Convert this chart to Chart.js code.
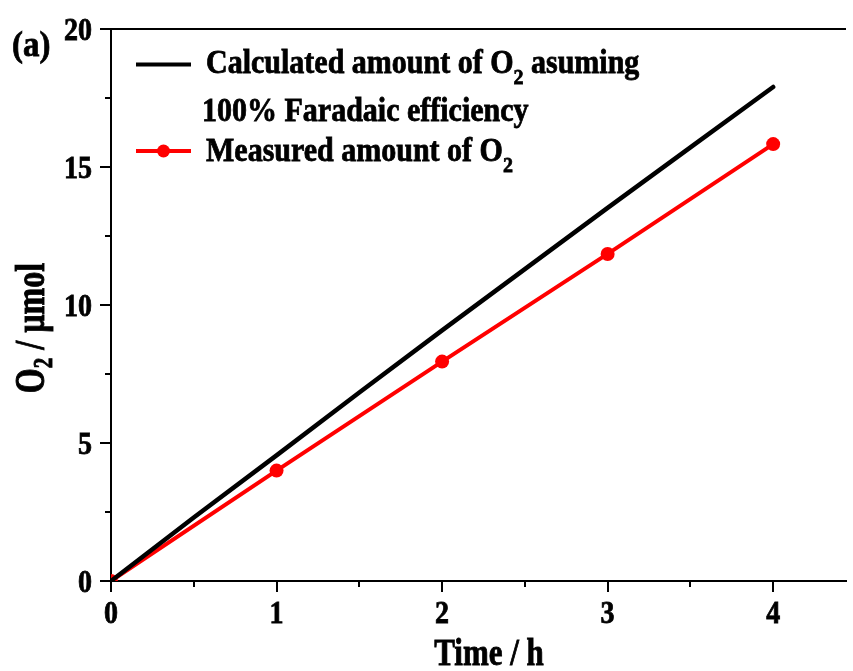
<!DOCTYPE html>
<html>
<head>
<meta charset="utf-8">
<script src="https://cdn.jsdelivr.net/npm/chart.js@4"></script>
<style>
  html, body { margin: 0; padding: 0; background: #fff; }
  canvas { display: block; }
</style>
</head>
<body>
<canvas id="o2Chart" width="853" height="671"></canvas>
<script>
// data
const calcTime = [0, 0.5, 1, 1.5, 2, 2.5, 3, 3.5, 4];
const calcO2 = [0, 2.3, 4.55, 6.83, 9.08, 11.3, 13.52, 15.71, 17.9];
const measTime = [0, 1, 2, 3, 4];
const measO2 = [0, 4.0, 7.95, 11.85, 15.83];
const xMinorTicks = [0.5, 1.5, 2.5, 3.5];
const yMinorTicks = [2.5, 7.5, 12.5, 17.5];

const serif = '"Liberation Serif", "Times New Roman", serif';
const font = (size) => 'bold ' + size + 'px ' + serif;

// text in the original figure is a bit taller and heavier, so stretch it vertically and add a thin outline
function drawRich(ctx, parts, x, y, sy) {
  ctx.save();
  ctx.translate(x, y);
  ctx.scale(1, sy || 1);
  ctx.lineWidth = 0.7;
  ctx.strokeStyle = ctx.fillStyle;
  let cx = 0;
  parts.forEach(p => {
    ctx.font = font(p.size);
    ctx.fillText(p.t, cx, p.dy || 0);
    ctx.strokeText(p.t, cx, p.dy || 0);
    cx += ctx.measureText(p.t).width;
  });
  ctx.restore();
}
function richWidth(ctx, parts) {
  let w = 0;
  parts.forEach(p => { ctx.font = font(p.size); w += ctx.measureText(p.t).width; });
  return w;
}

const decorations = {
  id: 'decorations',
  afterDraw(chart) {
    const ctx = chart.ctx;
    const area = chart.chartArea;
    const xs = chart.scales.x, ys = chart.scales.y;
    ctx.save();
    ctx.strokeStyle = '#000';
    ctx.fillStyle = '#000';

    // top frame line
    ctx.lineWidth = 2;
    ctx.beginPath();
    ctx.moveTo(area.left, area.top);
    ctx.lineTo(area.right, area.top);
    ctx.stroke();

    // minor ticks
    xMinorTicks.forEach(v => {
      const px = Math.round(xs.getPixelForValue(v));
      ctx.beginPath();
      ctx.moveTo(px, area.bottom);
      ctx.lineTo(px, area.bottom + 6);
      ctx.stroke();
    });
    yMinorTicks.forEach(v => {
      const py = Math.round(ys.getPixelForValue(v));
      ctx.beginPath();
      ctx.moveTo(area.left, py);
      ctx.lineTo(area.left - 6, py);
      ctx.stroke();
    });

    ctx.textBaseline = 'alphabetic';

    // tick labels
    ctx.textAlign = 'center';
    xs.ticks.forEach(t => {
      drawRich(ctx, [{t: String(t.value), size: 28}], xs.getPixelForValue(t.value), 623, 1.15);
    });
    ctx.textAlign = 'right';
    ys.ticks.forEach(t => {
      drawRich(ctx, [{t: String(t.value), size: 28}], area.left - 19, ys.getPixelForValue(t.value) + 11, 1.15);
    });

    // panel label
    ctx.textAlign = 'left';
    drawRich(ctx, [{t: '(a)', size: 33}], 12, 56, 1.1);

    // x title
    ctx.textAlign = 'center';
    drawRich(ctx, [{t: 'Time / h', size: 31}], 489, 665, 1.2);

    // y title (rotated, with subscript)
    ctx.textAlign = 'left';
    const yParts = [{t: 'O', size: 32}, {t: '2', size: 21, dy: 6}, {t: ' / \u00b5mol', size: 32}];
    ctx.save();
    ctx.translate(44, 328);
    ctx.rotate(-Math.PI / 2);
    drawRich(ctx, yParts, -richWidth(ctx, yParts) / 2, 0, 1.3);
    ctx.restore();

    // legend
    ctx.lineCap = 'butt';
    ctx.lineWidth = 4;
    ctx.strokeStyle = '#000';
    ctx.beginPath();
    ctx.moveTo(136, 64.5);
    ctx.lineTo(191, 64.5);
    ctx.stroke();
    drawRich(ctx, [{t: 'Calculated amount of O', size: 30}, {t: '2', size: 20, dy: 10}, {t: ' asuming', size: 30}], 206, 73, 1.1);
    drawRich(ctx, [{t: '100% Faradaic efficiency', size: 30}], 202, 121, 1.1);

    ctx.lineWidth = 4;
    ctx.strokeStyle = '#ff0000';
    ctx.beginPath();
    ctx.moveTo(136, 151);
    ctx.lineTo(191, 151);
    ctx.stroke();
    ctx.fillStyle = '#ff0000';
    ctx.beginPath();
    ctx.arc(163.5, 151, 6.5, 0, Math.PI * 2);
    ctx.fill();
    ctx.fillStyle = '#000';
    drawRich(ctx, [{t: 'Measured amount of O', size: 30}, {t: '2', size: 20, dy: 10}], 206, 161, 1.1);

    ctx.restore();
  }
};

const ctx = document.getElementById('o2Chart').getContext('2d');
const chart = new Chart(ctx, {
  type: 'scatter',
  data: {
    datasets: [{
      label: 'Calculated amount of O2 asuming 100% Faradaic efficiency',
      data: calcTime.map((t, i) => ({x: t, y: calcO2[i]})),
      showLine: true,
      borderColor: '#000',
      borderWidth: 4.5,
      pointRadius: 0,
      borderCapStyle: 'round',
      tension: 0
    }, {
      label: 'Measured amount of O2',
      data: measTime.map((t, i) => ({x: t, y: measO2[i]})),
      showLine: true,
      borderColor: '#ff0000',
      backgroundColor: '#ff0000',
      borderWidth: 4,
      pointRadius: 7,
      pointBorderWidth: 0,
      tension: 0
    }]
  },
  options: {
    responsive: false,
    animation: false,
    layout: { padding: { top: 29, left: 0, right: 0, bottom: 0 } },
    plugins: { legend: { display: false }, tooltip: { enabled: false } },
    scales: {
      x: {
        type: 'linear',
        min: 0,
        max: 4.44,
        afterFit: (s) => { s.height = 90; },
        ticks: { display: false, stepSize: 1, includeBounds: false },
        grid: { drawOnChartArea: false, tickLength: 11, color: '#000', lineWidth: 2 },
        border: { color: '#000', width: 2 }
      },
      y: {
        min: 0,
        max: 20,
        afterFit: (s) => { s.width = 111; },
        ticks: { display: false, stepSize: 5 },
        grid: { drawOnChartArea: false, tickLength: 11, color: '#000', lineWidth: 2 },
        border: { color: '#000', width: 2 }
      }
    }
  },
  plugins: [decorations]
});
</script>
</body>
</html>
